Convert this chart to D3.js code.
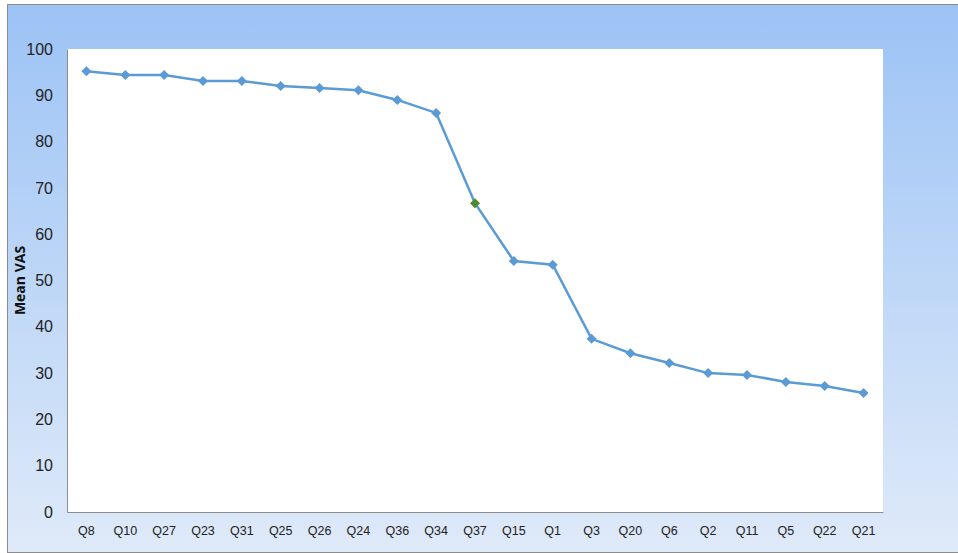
<!DOCTYPE html>
<html>
<head>
<meta charset="utf-8">
<script src="https://cdn.jsdelivr.net/npm/d3@7"></script>
<style>
  body { margin: 0; background: #fff; }
  svg { display: block; font-family: "Open Sans", "Liberation Sans", sans-serif; }
</style>
</head>
<body>
<div id="chart"></div>
<script>
// questions ordered by mean VAS
const questions = ["Q8", "Q10", "Q27", "Q23", "Q31", "Q25", "Q26", "Q24", "Q36", "Q34", "Q37",
  "Q15", "Q1", "Q3", "Q20", "Q6", "Q2", "Q11", "Q5", "Q22", "Q21"];
const meanVas = [95.2, 94.4, 94.4, 93.1, 93.1, 92.0, 91.6, 91.1, 89.0, 86.2, 66.7,
  54.2, 53.4, 37.4, 34.3, 32.2, 30.0, 29.6, 28.1, 27.2, 25.7];
const highlighted = ["Q37"];
const yTicks = [0, 10, 20, 30, 40, 50, 60, 70, 80, 90, 100];

const width = 958, height = 553;
const plot = { left: 67, top: 49, right: 883, bottom: 512 };

const svg = d3.select("#chart").append("svg")
    .attr("width", width)
    .attr("height", height);

const grad = svg.append("defs").append("linearGradient")
    .attr("id", "bg").attr("x1", 0).attr("y1", 0).attr("x2", 0).attr("y2", 1);
grad.append("stop").attr("offset", "0%").attr("stop-color", "#9cc3f5");
grad.append("stop").attr("offset", "100%").attr("stop-color", "#dfeaf9");

svg.append("rect")
    .attr("x", 7.5).attr("y", 4.5)
    .attr("width", width).attr("height", height - 5)
    .attr("fill", "url(#bg)")
    .attr("stroke", "#8c8c8c");

svg.append("rect")
    .attr("x", plot.left).attr("y", plot.top)
    .attr("width", plot.right - plot.left).attr("height", plot.bottom - plot.top)
    .attr("fill", "#fff");

const x = d3.scaleBand().domain(questions).range([plot.left, plot.right]);
const y = d3.scaleLinear().domain([0, 100]).range([plot.bottom, plot.top]);

// y axis: labels only, line on the left edge
const yAxis = svg.append("g")
    .attr("transform", `translate(${plot.left},0)`)
    .call(d3.axisLeft(y).tickValues(yTicks).tickSize(0).tickPadding(14));
yAxis.select(".domain").attr("stroke", "#8c8c8c");
yAxis.selectAll("text").attr("font-size", 16).attr("fill", "#222");

const xAxis = svg.append("g")
    .attr("transform", `translate(0,${plot.bottom})`)
    .call(d3.axisBottom(x).tickSize(0).tickPadding(14));
xAxis.select(".domain").attr("stroke", "#8c8c8c");
xAxis.selectAll("text").attr("font-size", 12.5).attr("fill", "#222");

svg.append("text")
    .attr("transform", `translate(25,${(plot.top + plot.bottom) / 2}) rotate(-90)`)
    .attr("text-anchor", "middle")
    .attr("font-size", 14)
    .attr("font-weight", "bold")
    .attr("fill", "#111")
    .text("Mean VAS");

const pts = questions.map((q, i) => ({ q, v: meanVas[i] }));

svg.append("path")
    .datum(pts)
    .attr("fill", "none")
    .attr("stroke", "#5b9bd5")
    .attr("stroke-width", 2.5)
    .attr("d", d3.line().x(d => x(d.q) + x.bandwidth() / 2).y(d => y(d.v)));

svg.selectAll(".marker")
    .data(pts)
    .enter().append("path")
    .attr("class", "marker")
    .attr("transform", d => `translate(${x(d.q) + x.bandwidth() / 2},${y(d.v)})`)
    .attr("d", d3.symbol(d3.symbolDiamond2, 64))
    .attr("fill", d => highlighted.includes(d.q) ? "#4e8a30" : "#5b9bd5");
</script>
</body>
</html>
